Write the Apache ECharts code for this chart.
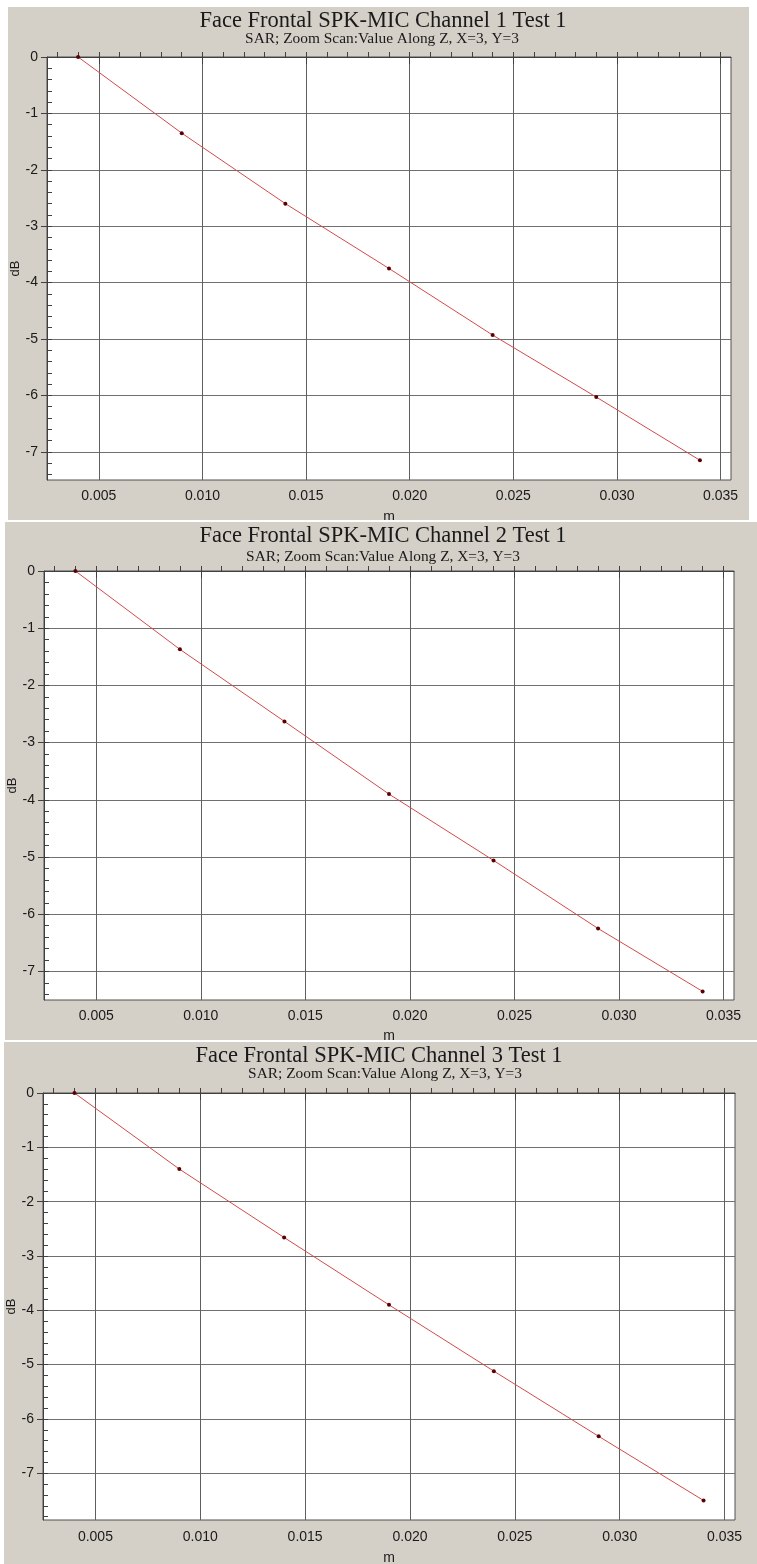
<!DOCTYPE html>
<html>
<head>
<meta charset="utf-8">
<script src="https://cdn.jsdelivr.net/npm/echarts@6/dist/echarts.min.js"></script>
<style>
  html, body { margin: 0; padding: 0; background: #fff; }
  body { width: 757px; height: 1564px; position: relative; overflow: hidden; }
  .panel { position: absolute; background: #d4d0c8; }
</style>
</head>
<body>
<div id="p1" class="panel" style="left:8px;top:7px;width:741px;height:513px"></div>
<div id="p2" class="panel" style="left:5px;top:522px;width:752px;height:518px"></div>
<div id="p3" class="panel" style="left:4px;top:1042px;width:753px;height:522px"></div>
<script>
// measurement positions along Z (m)
var xPos = [0.004, 0.009, 0.014, 0.019, 0.024, 0.029, 0.034]
// dB values, one array per channel
var ch1 = [0, -1.35, -2.6, -3.75, -4.93, -6.03, -7.15]
var ch2 = [0, -1.37, -2.63, -3.9, -5.06, -6.25, -7.35]
var ch3 = [0, -1.4, -2.66, -3.9, -5.12, -6.32, -7.5]
// tick labels
var xTicks = [0.005, 0.010, 0.015, 0.020, 0.025, 0.030, 0.035]
var yTicks = [0, -1, -2, -3, -4, -5, -6, -7]
var titles = [
  'Face Frontal SPK-MIC Channel 1 Test 1',
  'Face Frontal SPK-MIC Channel 2 Test 1',
  'Face Frontal SPK-MIC Channel 3 Test 1'
]
var subTitle = 'SAR; Zoom Scan:Value Along Z, X=3, Y=3'

var X_MIN = 0.0025, X_MAX = 0.0355
var LABEL_FONT = 'Liberation Sans'
var TITLE_FONT = 'Liberation Serif'

function xMinor() {
  var out = []
  for (var i = 3; i <= 35; i++) out.push(i / 1000)
  return out
}
function yMinor(min) {
  var out = []
  for (var i = 0; -i / 5 >= min; i++) out.push(-i / 5)
  return out
}

function drawChart(id, vals, title, cfg) {
  var myChart = echarts.init(document.getElementById(id), null, { renderer: 'canvas' })
  var option = {
    animation: false,
    graphic: [
      {
        type: 'text', x: cfg.tx, y: cfg.ty,
        style: {
          text: title, font: '22.5px "' + TITLE_FONT + '"', fill: '#1a1a1a',
          align: 'center', verticalAlign: 'middle', textAlign: 'center', textVerticalAlign: 'middle'
        }
      },
      {
        type: 'text', x: cfg.sx, y: cfg.sy,
        style: {
          text: subTitle, font: '15.4px "' + TITLE_FONT + '"', fill: '#1a1a1a',
          align: 'center', verticalAlign: 'middle', textAlign: 'center', textVerticalAlign: 'middle'
        }
      }
    ],
    grid: {
      left: cfg.left, top: cfg.top, width: cfg.width, height: cfg.height,
      containLabel: false, outerBoundsMode: 'none',
      show: true, backgroundColor: '#fff', borderColor: '#505050', borderWidth: 1
    },
    xAxis: [
      {
        type: 'value', min: X_MIN, max: X_MAX, position: 'bottom',
        name: 'm', nameLocation: 'middle', nameGap: cfg.mGap, nameMoveOverlap: false,
        nameTextStyle: { fontFamily: LABEL_FONT, fontSize: 14, color: '#1a1a1a' },
        axisLine: { show: true, lineStyle: { color: '#404040', width: 1 } },
        axisTick: { show: true, inside: false, length: 7, customValues: xTicks, lineStyle: { color: '#404040' } },
        axisLabel: {
          customValues: xTicks, margin: cfg.xMargin, fontFamily: LABEL_FONT, fontSize: 14, color: '#1a1a1a',
          formatter: function (v) { return v.toFixed(3) }
        },
        splitLine: { show: true, lineStyle: { color: '#606060', width: 1 } }
      },
      {
        type: 'value', min: X_MIN, max: X_MAX, position: 'bottom',
        axisLine: { show: false },
        axisTick: { show: true, inside: true, length: 5, customValues: xMinor(), lineStyle: { color: '#404040' } },
        axisLabel: { show: false },
        splitLine: { show: false }
      }
    ],
    yAxis: [
      {
        type: 'value', min: cfg.yMin, max: 0, position: 'left',
        name: 'dB', nameLocation: 'middle', nameGap: cfg.dbGap, nameMoveOverlap: false,
        nameTextStyle: { fontFamily: LABEL_FONT, fontSize: 13, color: '#1a1a1a' },
        axisLine: { show: true, lineStyle: { color: '#404040', width: 1 } },
        axisTick: { show: true, inside: false, length: 6, customValues: yTicks, lineStyle: { color: '#404040' } },
        axisLabel: {
          customValues: yTicks, margin: 9, fontFamily: LABEL_FONT, fontSize: 14, color: '#1a1a1a'
        },
        splitLine: { show: true, lineStyle: { color: '#707070', width: 1 } }
      },
      {
        type: 'value', min: cfg.yMin, max: 0, position: 'left',
        axisLine: { show: false },
        axisTick: { show: true, inside: true, length: 5, customValues: yMinor(cfg.yMin), lineStyle: { color: '#404040' } },
        axisLabel: { show: false },
        splitLine: { show: false }
      }
    ],
    series: [
      {
        type: 'line',
        xAxisIndex: 0,
        yAxisIndex: 0,
        data: xPos.map(function (x, i) { return [x, vals[i]] }),
        symbol: 'circle',
        symbolSize: 4,
        showSymbol: true,
        lineStyle: { color: '#d24a4a', width: 1 },
        itemStyle: { color: '#5a0000' }
      }
    ]
  }
  myChart.setOption(option)
}

drawChart('p1', ch1, titles[0], {
  left: 39, top: 50, width: 684, height: 423, yMin: -7.5,
  tx: 375, ty: 14.5, sx: 374, sy: 31.5, mGap: 30, dbGap: 25, xMargin: 9
})
drawChart('p2', ch2, titles[1], {
  left: 39, top: 49, width: 690, height: 429, yMin: -7.5,
  tx: 378, ty: 14, sx: 378, sy: 35, mGap: 29, dbGap: 25, xMargin: 9
})
drawChart('p3', ch3, titles[2], {
  left: 39, top: 51, width: 692, height: 427, yMin: -7.86,
  tx: 375, ty: 14.5, sx: 381, sy: 31.5, mGap: 31, dbGap: 25, xMargin: 10
})
</script>
</body>
</html>
